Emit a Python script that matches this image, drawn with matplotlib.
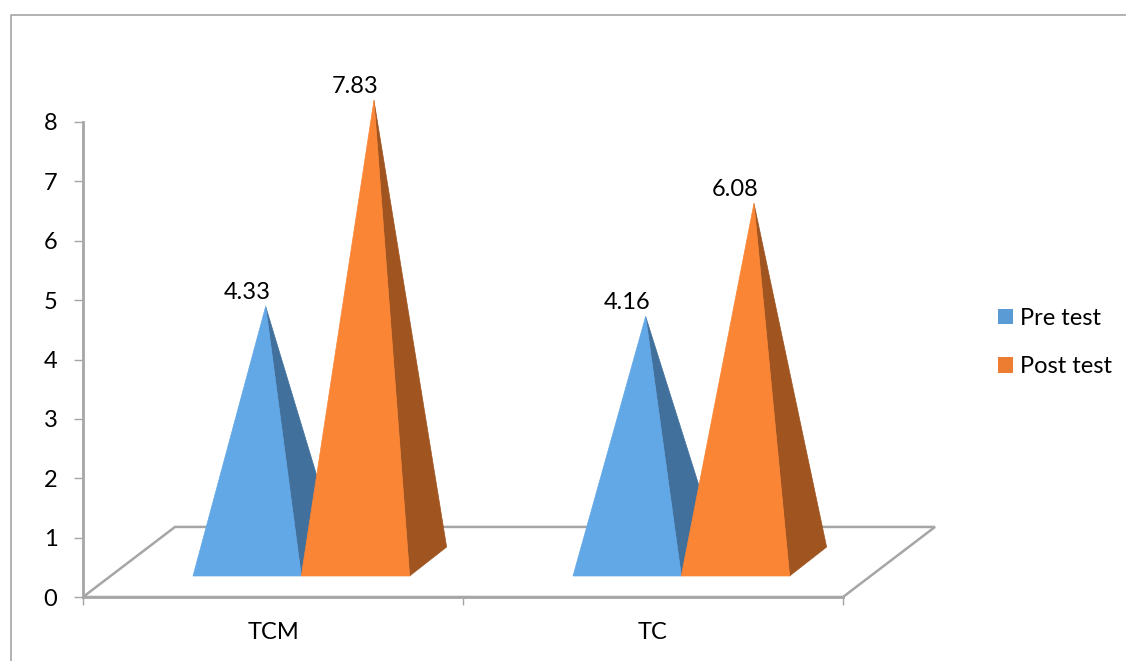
import matplotlib
matplotlib.use('Agg')
import matplotlib.pyplot as plt
from matplotlib.lines import Line2D
from matplotlib.patches import Patch, Polygon

plt.rcParams['font.family'] = ['Lato', 'DejaVu Sans']

# Values
categories = ['TCM', 'TC']
pre_test = [4.33, 4.16]
post_test = [7.83, 6.08]
y_ticks = [0, 1, 2, 3, 4, 5, 6, 7, 8]

W, H = 1126, 661
GRAY = '#A6A6A6'
FONT = 17

fig = plt.figure(figsize=(W / 100, H / 100), dpi=100, facecolor='white')

# Axes box in pixels of the figure (x 83-843, y 122-597 from the top)
ax = fig.add_axes([83 / W, (H - 597) / H, 760 / W, 475 / H])
ax.set_xlim(0, 2)
ax.set_ylim(0, 8)
ax.patch.set_visible(False)

# Oblique offsets of the fake 3D view, in data units
floor_dx, floor_dy = 0.2421, 1.18
front_dx, front_dy = 0.0745, 0.354   # where the front of the bars sits on the floor
bar_w = 0.285
bar_dx, bar_dy = 0.0974, 0.488       # depth of one pyramid
h_scale = 0.992


def draw_pyramid(left, value, front_col, side_col, label):
    right = left + bar_w
    base = front_dy
    apex_x = left + bar_w / 2 + bar_dx / 2
    apex_y = base + bar_dy / 2 + value * h_scale
    ax.add_patch(Polygon([(right, base), (right + bar_dx, base + bar_dy), (apex_x, apex_y)],
                         closed=True, fc=side_col, ec=side_col, lw=0.5, clip_on=False, zorder=3))
    ax.add_patch(Polygon([(left, base), (right, base), (apex_x, apex_y)],
                         closed=True, fc=front_col, ec=front_col, lw=0.5, clip_on=False, zorder=3))
    ax.annotate(label, (left + bar_w / 2, apex_y), xytext=(0, 10), textcoords='offset points',
                ha='center', va='center', fontsize=FONT, color='black', zorder=4,
                annotation_clip=False)


# Floor
ax.add_patch(Polygon([(0, 0), (2, 0), (2 + floor_dx, floor_dy), (floor_dx, floor_dy)],
                     closed=True, fc='white', ec=GRAY, lw=1.8, clip_on=False, zorder=1))

for i in range(len(categories)):
    centre = i + 0.5 + front_dx
    draw_pyramid(centre - bar_w, pre_test[i], '#62A7E6', '#41709C', f'{pre_test[i]:.2f}')
    draw_pyramid(centre, post_test[i], '#FA8535', '#A0541F', f'{post_test[i]:.2f}')

# Axes lines, ticks and labels
for side in ['top', 'right']:
    ax.spines[side].set_visible(False)
for side in ['left', 'bottom']:
    ax.spines[side].set_color(GRAY)
    ax.spines[side].set_linewidth(2)
    ax.spines[side].set_zorder(2)

ax.set_yticks(y_ticks)
ax.set_xticks([0, 1, 2])
ax.set_xticklabels([])
ax.set_xticks([0.5, 1.5], minor=True)
ax.set_xticklabels(categories, minor=True)
ax.tick_params(axis='y', length=6.5, width=1, color=GRAY, labelsize=FONT, pad=12, labelcolor='black')
ax.tick_params(axis='x', which='major', length=6, width=1, color=GRAY)
ax.tick_params(axis='x', which='minor', length=0, labelsize=FONT, pad=18, labelcolor='black')

# Legend
handles = [Patch(fc='#5B9BD5', ec='none', label='Pre test'),
           Patch(fc='#ED7D31', ec='none', label='Post test')]
fig.legend(handles=handles, loc='center left', bbox_to_anchor=(998 / W, (H - 342.5) / H),
           frameon=False, fontsize=FONT, labelspacing=1.16, handlelength=0.64, handleheight=0.64,
           handletextpad=0.31, borderpad=0, borderaxespad=0)

# Outer chart frame, only top and left are in the picture
fig.add_artist(Line2D([10.5 / W, 10.5 / W, 1], [0, (H - 15) / H, (H - 15) / H],
                      transform=fig.transFigure, color=GRAY, lw=1.2))

fig.savefig('out.png', dpi=100)
